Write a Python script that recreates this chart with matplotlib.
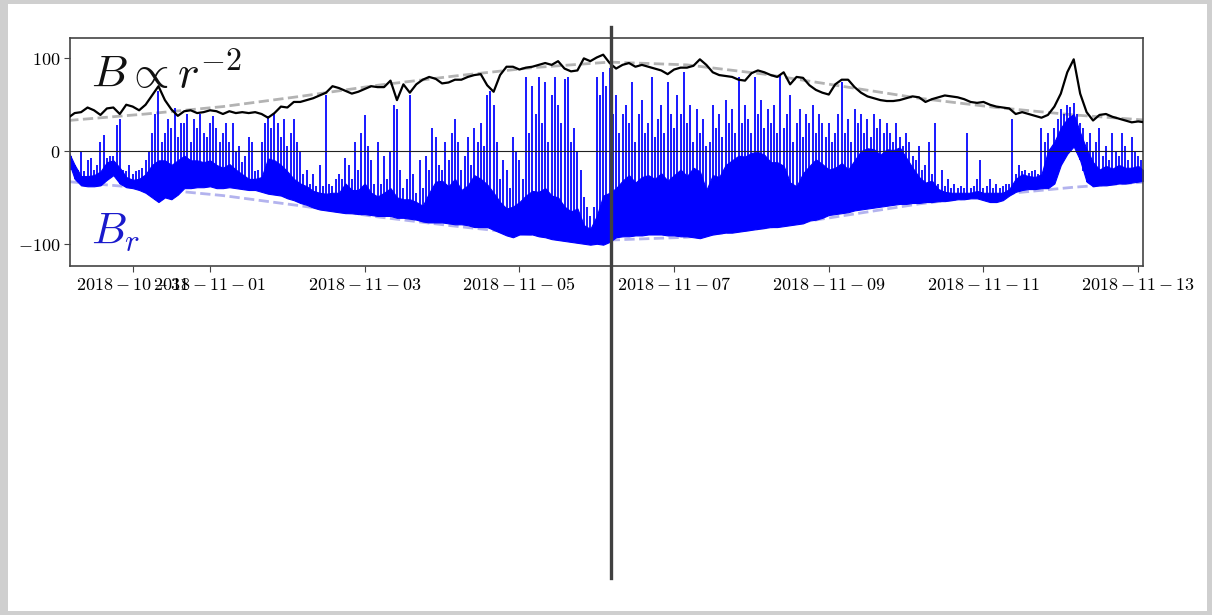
import numpy as np
import pandas as pd
import matplotlib
matplotlib.use('Agg')
import matplotlib.pyplot as plt
import matplotlib.dates as mdates
import matplotlib.transforms as mtransforms
from matplotlib.lines import Line2D
from matplotlib.patches import Rectangle

plt.rcParams['mathtext.fontset'] = 'cm'
plt.rcParams['font.family'] = ['DejaVu Serif']

# ---------------- data ----------------
start_time = '2018-10-30 04:00'
x_start = '2018-10-30 04:33'
x_end = '2018-11-13 01:30'
marker_time = '2018-11-06 04:20'

# |B| every 2 hours
b_mag = [36, 41, 42, 47, 44, 39, 46, 47, 40, 50,
         48, 44, 50, 60, 70, 55, 45, 38, 43, 44,
         41, 42, 44, 43, 40, 43, 41, 42, 41, 42,
         40, 36, 41, 48, 47, 53, 53, 55, 57, 60,
         63, 70, 68, 65, 62, 64, 67, 70, 69, 69,
         76, 55, 72, 63, 72, 77, 80, 78, 73, 74,
         77, 77, 80, 82, 83, 71, 64, 82, 91, 91,
         88, 90, 91, 93, 95, 93, 97, 89, 86, 87,
         100, 97, 101, 104, 95, 89, 93, 95, 91, 93,
         91, 89, 87, 83, 88, 90, 90, 92, 99, 93,
         85, 82, 81, 80, 77, 76, 84, 87, 85, 82,
         80, 85, 72, 80, 79, 71, 66, 63, 61, 72,
         77, 77, 69, 63, 59, 57, 55, 54, 54, 55,
         57, 59, 58, 53, 56, 58, 60, 59, 58, 56,
         53, 52, 53, 50, 48, 47, 46, 40, 42, 40,
         38, 36, 39, 48, 62, 85, 99, 62, 42, 33,
         39, 40, 37, 35, 33, 31, 32, 31]

# B_r dense band, lower and upper edge, every 2 hours
br_lo = [-10, -30, -37, -38, -38, -37, -31, -26, -35, -39,
         -40, -42, -45, -50, -55, -50, -52, -47, -40, -40,
         -39, -39, -38, -40, -40, -39, -40, -41, -42, -42,
         -44, -46, -47, -48, -51, -53, -56, -58, -61, -63,
         -64, -65, -66, -67, -67, -68, -68, -69, -70, -70,
         -70, -72, -72, -73, -74, -76, -77, -77, -77, -78,
         -79, -79, -80, -82, -82, -82, -85, -88, -91, -93,
         -90, -90, -90, -92, -93, -95, -96, -97, -98, -99,
         -100, -101, -100, -101, -98, -93, -92, -92, -91, -91,
         -90, -90, -90, -91, -91, -92, -92, -93, -94, -92,
         -90, -89, -88, -88, -87, -86, -85, -84, -83, -82,
         -82, -81, -80, -79, -78, -75, -74, -72, -69, -68,
         -67, -66, -64, -63, -62, -61, -60, -59, -58, -57,
         -57, -56, -56, -55, -55, -54, -54, -53, -52, -52,
         -51, -51, -53, -55, -55, -53, -48, -44, -42, -41,
         -41, -40, -40, -35, -15, -3, 5, -10, -33, -38,
         -37, -37, -36, -35, -35, -34, -33, -32]
br_hi = [0, -15, -27, -27, -26, -22, -12, -10, -18, -28,
         -31, -30, -25, -15, -10, -10, -15, -10, -5, -10,
         -10, -12, -10, -15, -18, -14, -20, -25, -30, -30,
         -28, -8, -10, -15, -22, -30, -35, -38, -43, -45,
         -46, -45, -45, -35, -42, -42, -35, -45, -49, -45,
         -40, -50, -52, -52, -55, -59, -45, -33, -32, -38,
         -30, -42, -37, -26, -30, -36, -45, -55, -62, -60,
         -55, -48, -43, -44, -40, -48, -50, -60, -65, -62,
         -80, -84, -70, -48, -45, -40, -32, -26, -34, -28,
         -26, -30, -24, -32, -26, -20, -27, -18, -22, -42,
         -26, -28, -15, -10, -5, -6, -2, -1, -4, -12,
         -12, -16, -34, -38, -24, -16, -9, -14, -20, -18,
         -13, -20, -10, 0, 3, 2, -4, 2, 1, 4,
         -7, -18, -28, -34, -32, -41, -44, -45, -45, -45,
         -45, -43, -45, -45, -45, -45, -41, -30, -25, -27,
         -28, -25, 0, 10, 25, 35, 40, 20, 2, -12,
         -20, -16, -19, -15, -18, -18, -16, -22]

# hourly maximum of B_r
br_max = [0, -5, -15, -20, 0, -22, -10, -8, -20, -15,
          10, 17, -8, -5, -5, 28, 35, -20, -22, -15,
          -25, -22, -20, -18, -10, 0, 20, 40, 65, 10,
          20, 35, 25, 46, 15, 30, 30, 40, 10, 35,
          25, 40, 20, 15, 30, 38, 25, 10, 20, 30,
          10, 30, 0, 5, -12, -5, 15, 10, -22, -20,
          10, 30, 38, 25, 40, 30, 15, 35, 5, 20,
          35, 10, 0, -25, -20, -35, -25, -38, -15, -38,
          60, -35, -38, -30, -25, -30, -7, -15, -30, 10,
          -20, 20, 39, 5, -10, -35, 10, -35, -5, -30,
          0, 50, 45, -20, -40, -30, 60, -25, -45, -10,
          -40, -5, -20, 25, 15, -15, -20, 10, -10, 20,
          35, 10, -20, -5, 15, -15, 25, 10, 30, 5,
          60, 65, 50, 10, -30, -10, -20, -40, 15, 0,
          -10, -30, 80, 20, 70, 40, 80, 30, 75, 10,
          60, 80, 50, 30, 78, 80, 10, 25, 0, -20,
          -50, -60, -70, -60, 80, 60, 85, 70, 90, 40,
          60, 20, 40, 50, 30, 75, 10, 40, 55, 20,
          30, 80, 15, 35, 50, 20, 75, 40, 25, 60,
          40, 85, 30, 50, 10, 45, 20, 35, 5, 10,
          50, 25, 40, 15, 55, 30, 45, 20, 80, 30,
          50, 35, 20, 80, 40, 55, 25, 45, 30, 50,
          20, 82, 25, 40, 60, 10, 30, 45, 15, 40,
          30, 50, 20, 40, 30, 15, 30, 10, 20, 40,
          75, 20, 35, 10, 45, 30, 40, 20, 35, 15,
          40, 25, 35, 20, 30, 20, 10, 30, 15, 5,
          20, 10, -5, -10, 5, -20, -15, 10, -25, 30,
          -35, -20, -38, -30, -40, -35, -40, -38, -40, 20,
          -40, -38, -30, -10, -40, -38, -30, -40, -35, -40,
          -38, -36, -36, 35, -25, -15, -22, -20, -24, -22,
          -20, -25, 25, 10, 20, 0, 25, 35, 45, 40,
          50, 48, 52, 40, 30, 25, 10, 20, 0, 10,
          25, -5, 5, -10, 20, 0, -5, 20, 5, -10,
          15, 0, -5, -10]

# r^-2 reference curve, daily
env_vals = [33, 40, 48, 59, 71, 81, 90, 96, 93, 83, 70, 57, 47, 39, 33]

tick_dates = ['2018-10-31', '2018-11-01', '2018-11-03', '2018-11-05',
              '2018-11-07', '2018-11-09', '2018-11-11', '2018-11-13']
y_ticks = [-100, 0, 100]

# ---------------- figure ----------------
W, H = 1212, 615
fig = plt.figure(figsize=(W / 100, H / 100), dpi=100)
fig.patch.set_facecolor('#cfcfcf')
fig.add_artist(Rectangle((8 / W, 4 / H), (1207 - 8) / W, (611 - 4) / H,
                         transform=fig.transFigure, facecolor='white',
                         edgecolor='none', zorder=-10))

ax = fig.add_axes([70 / W, 1 - 266 / H, 1073 / W, 228 / H])
ax.set_facecolor('white')

t2 = pd.date_range(start_time, periods=len(b_mag), freq='2h')
t1 = pd.date_range(start_time, periods=len(br_max), freq='1h')
te = pd.date_range(start_time, periods=len(env_vals), freq='24h')
n2 = mdates.date2num(t2.to_pydatetime())
n1 = mdates.date2num(t1.to_pydatetime())
ne = mdates.date2num(te.to_pydatetime())

env = np.array(env_vals, dtype=float)
ax.plot(ne, env, ls='--', color='#b3b3b3', lw=2.0, zorder=1)
ax.plot(ne, -env, ls='--', color='#b3b3ee', lw=2.0, zorder=1)

ax.fill_between(n2, br_lo, br_hi, color='#0000ff', lw=0.8, edgecolor='#0000ff', zorder=2)
base = np.interp(n1, n2, np.array(br_lo, dtype=float))
ax.vlines(n1, base, br_max, color='#0000ff', lw=1.4, alpha=0.9, zorder=2)

ax.plot(n2, b_mag, color='black', lw=1.6, zorder=3)
ax.axhline(0, color='#222222', lw=0.8, zorder=4)

ax.set_xlim(mdates.date2num(pd.Timestamp(x_start).to_pydatetime()),
            mdates.date2num(pd.Timestamp(x_end).to_pydatetime()))
ax.set_ylim(-124, 122)

ax.set_xticks([mdates.date2num(pd.Timestamp(d).to_pydatetime()) for d in tick_dates])
ax.set_xticklabels([r'$' + d + '$' for d in tick_dates], fontsize=13)
ax.set_yticks(y_ticks)
ax.set_yticklabels([r'$' + str(v) + '$' for v in y_ticks], fontsize=13)
ax.tick_params(direction='out', length=4, width=0.8, color='#444444', pad=3)
for s in ax.spines.values():
    s.set_color('#444444')
    s.set_linewidth(1.2)

ax.text(0.02, 0.78, r'$B \propto r^{-2}$', transform=ax.transAxes,
        fontsize=33, va='baseline', color='#111111', zorder=6)
ax.text(0.02, 0.10, r'$B_r$', transform=ax.transAxes,
        fontsize=32, va='baseline', color='#1a1acc', zorder=6)

# vertical marker spanning beyond the axes
xm = mdates.date2num(pd.Timestamp(marker_time).to_pydatetime())
trans = mtransforms.blended_transform_factory(ax.transData, fig.transFigure)
fig.add_artist(Line2D([xm, xm], [1 - 578 / H, 1 - 27 / H], transform=trans,
                      color='#404040', lw=2.4, zorder=10))

fig.savefig('out.png', dpi=100, facecolor=fig.get_facecolor())
